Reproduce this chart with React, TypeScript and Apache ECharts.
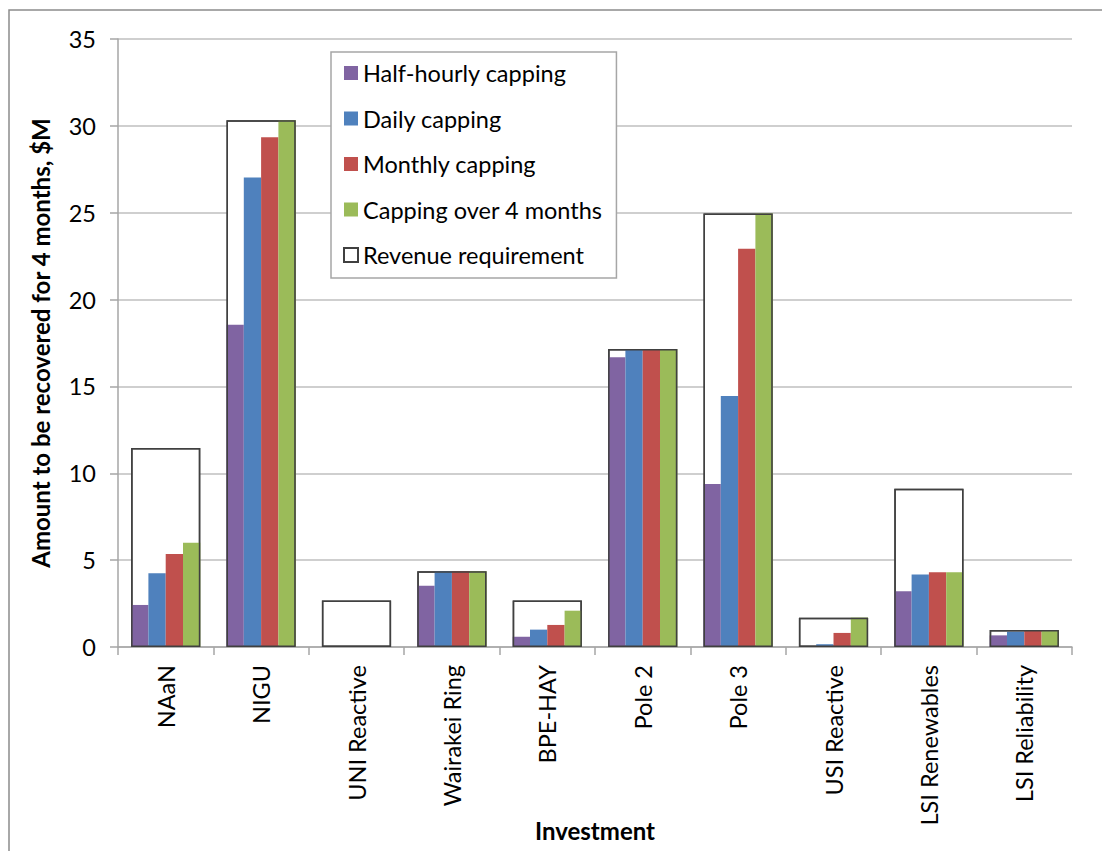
import React, { useEffect, useRef } from "react";
import * as echarts from "echarts";

const categories = [
  "NAaN",
  "NIGU",
  "UNI Reactive",
  "Wairakei Ring",
  "BPE-HAY",
  "Pole 2",
  "Pole 3",
  "USI Reactive",
  "LSI Renewables",
  "LSI Reliability",
];

const halfHourly = [2.42, 18.55, 0, 3.53, 0.59, 16.68, 9.38, 0, 3.21, 0.67];
const daily = [4.24, 27.02, 0, 4.36, 1.0, 17.16, 14.45, 0.16, 4.18, 0.88];
const monthly = [5.35, 29.35, 0, 4.36, 1.27, 17.16, 22.92, 0.81, 4.3, 0.98];
const overFourMonths = [6.0, 30.32, 0, 4.36, 2.09, 17.16, 24.95, 1.69, 4.3, 0.98];
const revenueRequirement = [11.46, 30.32, 2.67, 4.36, 2.67, 17.16, 24.95, 1.69, 9.11, 0.98];

const yTicks = { min: 0, max: 35, interval: 5 };

const FONT = "Lato, 'Open Sans', sans-serif";
const FS = 23.5;
const FS_BOLD = 24;
const BAR_W = 17.3;

export default function App() {
  const ref = useRef<HTMLDivElement>(null);

  useEffect(() => {
    if (!ref.current) return;
    const chart = echarts.init(ref.current, undefined, { renderer: "svg" });

    const capSeries = [
      { name: "Half-hourly capping", data: halfHourly, color: "#8064A2" },
      { name: "Daily capping", data: daily, color: "#4F81BD" },
      { name: "Monthly capping", data: monthly, color: "#C0504D" },
      { name: "Capping over 4 months", data: overFourMonths, color: "#9BBB59" },
    ].map((s) => ({
      name: s.name,
      type: "bar" as const,
      xAxisIndex: 0,
      data: s.data,
      barWidth: BAR_W,
      barGap: "0%",
      z: 3,
      itemStyle: { color: s.color },
    }));

    chart.setOption({
      animation: false,
      backgroundColor: "#ffffff",
      textStyle: { fontFamily: FONT },
      grid: {
        left: 118,
        right: 30,
        top: 39,
        bottom: 204,
        containLabel: false,
        outerBoundsMode: "none",
      },
      legend: {
        orient: "vertical",
        left: 331,
        top: 52,
        padding: [9, 14, 11, 12],
        icon: "rect",
        itemWidth: 14,
        itemHeight: 14,
        itemGap: 21.5,
        backgroundColor: "#ffffff",
        borderColor: "#A6A6A6",
        borderWidth: 1.5,
        textStyle: { fontFamily: FONT, fontSize: FS, color: "#000", lineHeight: 24 },
        data: [
          "Half-hourly capping",
          "Daily capping",
          "Monthly capping",
          "Capping over 4 months",
          "Revenue requirement",
        ],
      },
      xAxis: [
        {
          type: "category",
          data: categories,
          name: "Investment",
          nameLocation: "middle",
          nameGap: 171,
          nameMoveOverlap: false,
          nameTextStyle: { fontFamily: FONT, fontSize: FS_BOLD, fontWeight: "bold", color: "#000" },
          axisLine: { lineStyle: { color: "#A6A6A6", width: 1.5 } },
          axisTick: { show: true, length: 8, lineStyle: { color: "#A6A6A6", width: 1.5 } },
          axisLabel: {
            rotate: 90,
            margin: 18,
            fontFamily: FONT,
            fontSize: FS,
            color: "#000",
            interval: 0,
          },
        },
        {
          type: "category",
          data: categories,
          show: false,
        },
      ],
      yAxis: {
        type: "value",
        min: yTicks.min,
        max: yTicks.max,
        interval: yTicks.interval,
        name: "Amount to be recovered for 4 months, $M",
        nameLocation: "middle",
        nameGap: 66,
        nameMoveOverlap: false,
        nameTextStyle: { fontFamily: FONT, fontSize: FS_BOLD, fontWeight: "bold", color: "#000" },
        axisLine: { show: true, lineStyle: { color: "#A6A6A6", width: 1.5 } },
        axisTick: { show: true, length: 8, lineStyle: { color: "#A6A6A6", width: 1.5 } },
        axisLabel: { margin: 22, fontFamily: FONT, fontSize: FS, color: "#000" },
        splitLine: { lineStyle: { color: "#BFBFBF", width: 1.5 } },
      },
      graphic: [
        {
          type: "rect",
          shape: { x: 9, y: 10, width: 1100, height: 850 },
          style: { fill: "none", stroke: "#8C8C8C", lineWidth: 1.5 },
          silent: true,
        },
      ],
      series: [
        {
          name: "Revenue requirement",
          type: "bar",
          xAxisIndex: 1,
          data: revenueRequirement,
          barWidth: BAR_W * 4,
          barGap: "-100%",
          z: 1,
          itemStyle: { color: "#ffffff", borderColor: "#404040", borderWidth: 1.5 },
        },
        {
          name: "revenue-outline",
          type: "bar",
          xAxisIndex: 1,
          data: revenueRequirement,
          barWidth: BAR_W * 4,
          barGap: "-100%",
          z: 4,
          silent: true,
          itemStyle: { color: "rgba(0,0,0,0)", borderColor: "#404040", borderWidth: 1.5 },
        },
        ...capSeries,
      ],
    });

    return () => chart.dispose();
  }, []);

  return (
    <div
      ref={ref}
      style={{ position: "fixed", left: 0, top: 0, width: 1102, height: 851 }}
    />
  );
}
